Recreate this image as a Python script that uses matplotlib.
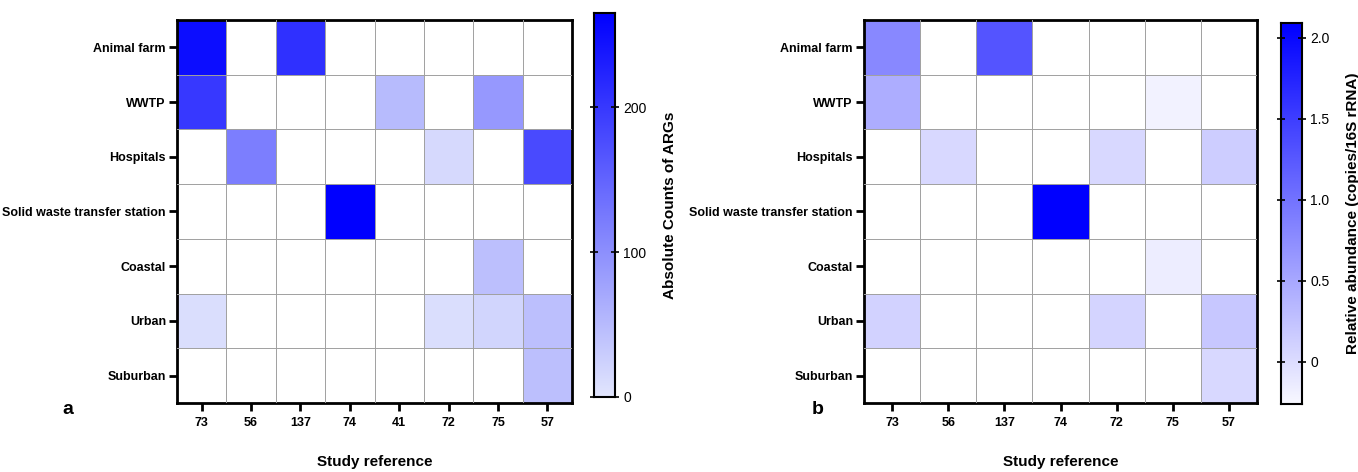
import numpy as np
import matplotlib
matplotlib.use("Agg")
import matplotlib.pyplot as plt
from matplotlib.colors import LinearSegmentedColormap

plt.rcParams['font.family'] = ['Liberation Sans', 'DejaVu Sans']

# ==========================
# Data
# ==========================
sites = ["Animal farm", "WWTP", "Hospitals", "Solid waste transfer station",
         "Coastal", "Urban", "Suburban"]

refs_a = ["73", "56", "137", "74", "41", "72", "75", "57"]
nan = np.nan
counts_a = [
    [250, nan, 210, nan, nan, nan, nan, nan],   # Animal farm
    [200, nan, nan, nan, 50, nan, 90, nan],     # WWTP
    [nan, 120, nan, nan, nan, 15, nan, 180],    # Hospitals
    [nan, nan, nan, 265, nan, nan, nan, nan],   # Solid waste
    [nan, nan, nan, nan, nan, nan, 45, nan],    # Coastal
    [10, nan, nan, nan, nan, 10, 20, 45],       # Urban
    [nan, nan, nan, nan, nan, nan, nan, 45],    # Suburban
]

refs_b = ["73", "56", "137", "74", "72", "75", "57"]
abund_b = [
    [0.80, nan, 1.30, nan, nan, nan, nan],
    [0.45, nan, nan, nan, nan, -0.20, nan],
    [nan, 0.05, nan, nan, 0.05, nan, 0.15],
    [nan, nan, nan, 2.10, nan, nan, nan],
    [nan, nan, nan, nan, nan, -0.15, nan],
    [0.10, nan, nan, nan, 0.08, nan, 0.20],
    [nan, nan, nan, nan, nan, nan, 0.05],
]

W, H = 1358, 472


def fx(px):
    return px / W


def fy(py):
    return 1 - py / H


def heatmap(fig, rect, crect, data, cols, cmap, vmin, vmax, cticks, ctlabels,
            clabel, letter, letter_x):
    data = np.ma.masked_invalid(np.array(data, dtype=float))
    ax = fig.add_axes(rect)
    ax.pcolormesh(np.arange(len(cols) + 1), np.arange(len(sites) + 1), data,
                  cmap=cmap, vmin=vmin, vmax=vmax)
    ax.set_xlim(0, len(cols))
    ax.set_ylim(len(sites), 0)
    # cell grid
    for i in range(1, len(cols)):
        ax.axvline(i, color="#a0a0a0", lw=0.7, zorder=3)
    for j in range(1, len(sites)):
        ax.axhline(j, color="#a0a0a0", lw=0.7, zorder=3)
    ax.set_xticks(np.arange(len(cols)) + 0.5)
    ax.set_xticklabels(cols, fontsize=9, fontweight="bold")
    ax.set_yticks(np.arange(len(sites)) + 0.5)
    ax.set_yticklabels(sites, fontsize=9, fontweight="bold")
    ax.tick_params(axis="both", direction="out", length=6, width=2, pad=2)
    ax.tick_params(axis="x", pad=4)
    for s in ax.spines.values():
        s.set_linewidth(2)
    ax.set_xlabel("Study reference", fontsize=11, fontweight="bold", labelpad=19)

    cax = fig.add_axes(crect)
    grad = np.linspace(vmin, vmax, 256).reshape(-1, 1)
    cax.imshow(grad, aspect="auto", origin="lower", cmap=cmap,
               vmin=vmin, vmax=vmax, extent=[0, 1, vmin, vmax])
    cax.set_xticks([])
    cax.yaxis.tick_right()
    cax.set_yticks(cticks)
    cax.set_yticklabels(ctlabels, fontsize=10)
    cax.tick_params(axis="y", direction="inout", length=6, width=1.2, pad=3,
                    left=True, right=True)
    for s in cax.spines.values():
        s.set_linewidth(1.5)
    cax.set_ylabel(clabel, fontsize=11, fontweight="bold", rotation=90,
                   labelpad=12)
    cax.yaxis.set_label_position("right")

    fig.text(letter_x, fy(410), letter, fontsize=14, fontweight="bold",
             ha="center", va="center")
    return ax


fig = plt.figure(figsize=(W / 100, H / 100), dpi=100)

cmap_a = LinearSegmentedColormap.from_list("a", ["#e2e6fd", "#0000ff"])
cmap_b = LinearSegmentedColormap.from_list("b", ["#f8f8ff", "#0000ff"])

heatmap(fig, [fx(177), fy(403), fx(395), 383 / H],
        [fx(594), fy(397), fx(21), 384 / H],
        counts_a, refs_a, cmap_a, 0, 265, [0, 100, 200], ["0", "100", "200"],
        "Absolute Counts of ARGs", "a", fx(68))

heatmap(fig, [fx(864), fy(403), fx(393), 383 / H],
        [fx(1281), fy(404), fx(21), 381 / H],
        abund_b, refs_b, cmap_b, -0.26, 2.09,
        [0, 0.5, 1.0, 1.5, 2.0], ["0", "0.5", "1.0", "1.5", "2.0"],
        "Relative abundance (copies/16S rRNA)", "b", fx(818))

plt.savefig("out.png", dpi=100)
